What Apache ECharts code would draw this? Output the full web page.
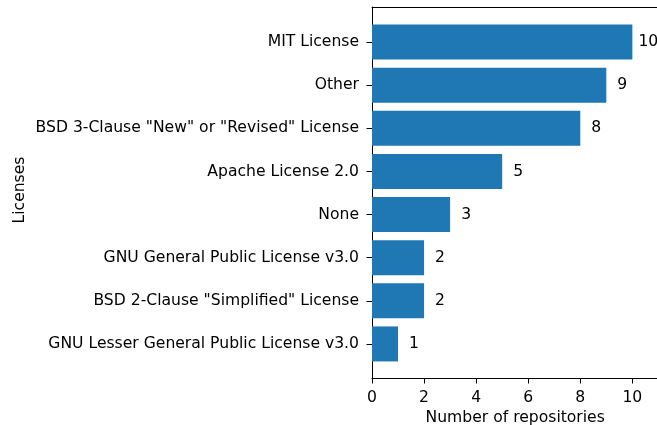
<!DOCTYPE html>
<html>
<head>
<meta charset="utf-8">
<script src="https://cdn.jsdelivr.net/npm/echarts@6/dist/echarts.min.js"></script>
<style>
html,body{margin:0;padding:0;background:#fff;}
#echartMain{width:657px;height:425px;}
</style>
</head>
<body>
<div id="echartMain"></div>
<script>
// bottom to top, same order as the bars are stacked on the axis
var licenses=['GNU Lesser General Public License v3.0','BSD 2-Clause "Simplified" License',
    'GNU General Public License v3.0','None','Apache License 2.0',
    'BSD 3-Clause "New" or "Revised" License','Other','MIT License'];
var repoCounts=[1,2,2,3,5,8,9,10];
var xTicks=[0,2,4,6,8,10];

var font='DejaVu Sans';
var fontSize=15.6;
var barColor='#1f77b4';

function setEchart(){
    var myChart=echarts.init(document.getElementById('echartMain'));

    // grid 0 holds the bars, grid 1 only draws the spines / ticks a bit wider (matplotlib margins)
    var option={
        animation:false,
        textStyle:{fontFamily:font},
        grid:[
            {left:372,top:20.5,width:286.4,height:345,outerBoundsMode:'none'},
            {left:372,top:7,width:286.4,height:371,outerBoundsMode:'none'}
        ],
        xAxis:[
            {gridIndex:0,type:'value',min:0,max:11,show:false},
            {
                gridIndex:1,type:'value',min:0,max:11,interval:2,position:'bottom',
                name:'Number of repositories',nameLocation:'middle',nameGap:32,
                nameTextStyle:{fontFamily:font,fontSize:fontSize,color:'#000'},
                axisLine:{show:true,lineStyle:{color:'#000',width:1}},
                axisTick:{show:true,length:5.5,lineStyle:{color:'#000'},customValues:xTicks},
                axisLabel:{fontFamily:font,fontSize:fontSize,color:'#000',margin:11.5,customValues:xTicks},
                splitLine:{show:false}
            },
            {
                gridIndex:1,type:'value',min:0,max:11,position:'top',
                axisLine:{show:true,lineStyle:{color:'#000',width:1}},
                axisTick:{show:false},axisLabel:{show:false},splitLine:{show:false}
            }
        ],
        yAxis:[
            {
                gridIndex:0,type:'category',data:licenses,
                axisLine:{show:false},
                axisTick:{show:true,alignWithLabel:true,length:5.5,lineStyle:{color:'#000'}},
                axisLabel:{fontFamily:font,fontSize:fontSize,color:'#000',margin:13,padding:[3,0,0,0]}
            },
            {
                gridIndex:1,type:'value',min:0,max:1,
                name:'Licenses',nameLocation:'middle',nameGap:344,
                nameTextStyle:{fontFamily:font,fontSize:fontSize,color:'#000',padding:[0,0,0,5]},
                axisLine:{show:true,lineStyle:{color:'#000',width:1}},
                axisTick:{show:false},axisLabel:{show:false},splitLine:{show:false}
            }
        ],
        series:[{
            type:'bar',
            xAxisIndex:0,
            yAxisIndex:0,
            data:repoCounts,
            barWidth:35,
            itemStyle:{color:barColor},
            // matplotlib text was centred about 0.6 units past the bar end
            label:{show:true,position:'right',distance:16,align:'center',padding:[3,0,0,0],
                fontFamily:font,fontSize:fontSize,color:'#000'}
        }]
    };

    myChart.setOption(option);
}

setEchart();
</script>
</body>
</html>
